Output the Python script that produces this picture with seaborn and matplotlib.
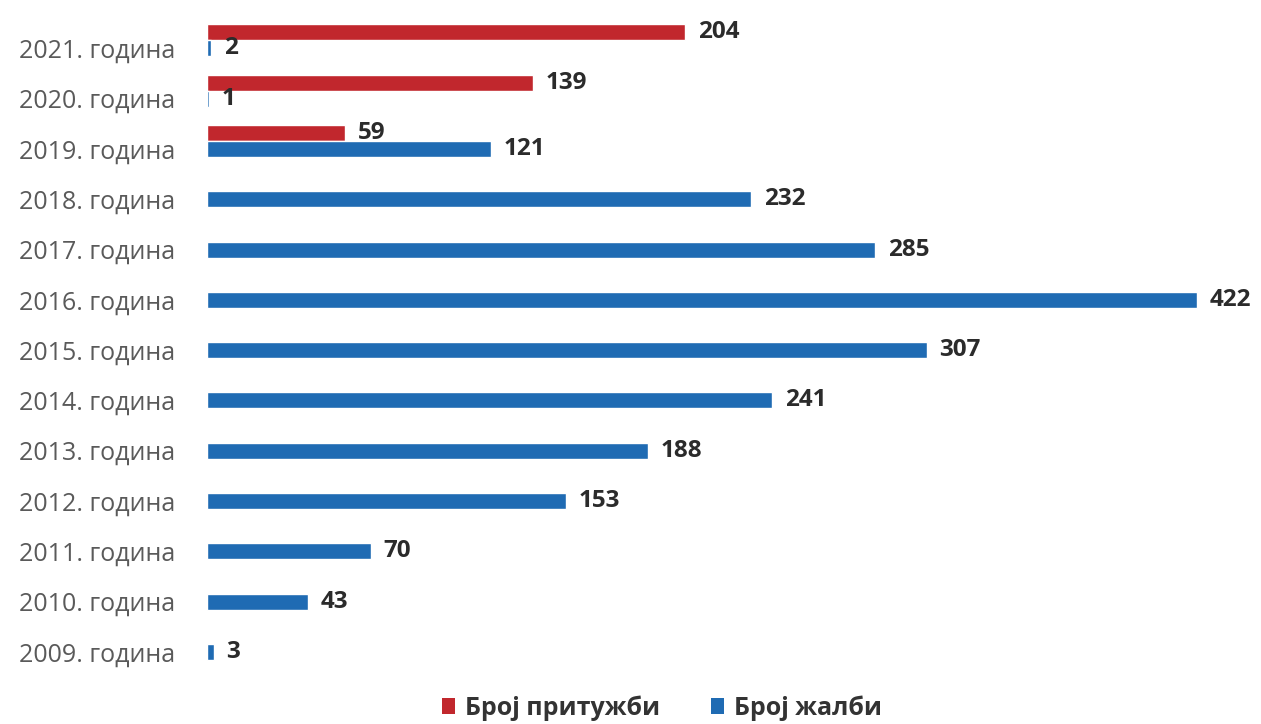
import matplotlib
matplotlib.use("Agg")
import matplotlib.pyplot as plt
import seaborn as sns
import pandas as pd

years = ["2021. година", "2020. година", "2019. година", "2018. година", "2017. година",
         "2016. година", "2015. година", "2014. година", "2013. година", "2012. година",
         "2011. година", "2010. година", "2009. година"]
complaints_years = ["2021. година", "2020. година", "2019. година"]
complaints = [204, 139, 59]          # Број притужби
appeals = [2, 1, 121, 232, 285, 422, 307, 241, 188, 153, 70, 43, 3]  # Број жалби
series = ["Број притужби", "Број жалби"]
colors = ["#C1272D", "#1F6BB3"]

rows = []
for y, v in zip(complaints_years, complaints):
    rows.append({"year": y, "series": series[0], "value": v})
for y, v in zip(years, appeals):
    rows.append({"year": y, "series": series[1], "value": v})
df = pd.DataFrame(rows)

sns.set_theme(style="white")
plt.rcParams["font.family"] = ["Open Sans", "DejaVu Sans"]

fig = plt.figure(figsize=(12.61, 7.24), dpi=100)
ax = fig.add_axes([0.164, 0.076, 0.80, 0.903])

sns.barplot(data=df, y="year", x="value", hue="series", order=years, hue_order=series,
            palette=colors, orient="h", width=0.64, dodge=True, ax=ax, legend=False,
            saturation=1)

for cont in ax.containers:
    ax.bar_label(cont, fmt="%d", padding=9, fontsize=17.5, fontweight="bold", color="#2b2b2b")

ax.set_xlim(0, 430)
ax.set_ylim(len(years) - 0.5, -0.5)
ax.set_xlabel("")
ax.set_ylabel("")
ax.set_xticks([])
ax.set_yticks([i + 0.16 for i in range(len(years))])
ax.set_yticklabels(years, fontsize=18, color="#5a5a5a")
ax.tick_params(axis="y", length=0, pad=23)
for s in ax.spines.values():
    s.set_visible(False)

from matplotlib.patches import Patch
handles = [Patch(facecolor=c, edgecolor="none") for c in colors]
leg = fig.legend(handles, series, loc="center", bbox_to_anchor=(0.525, 0.022), ncol=2,
                 frameon=False, fontsize=18, handlelength=0.55, handleheight=0.55,
                 handletextpad=0.4, columnspacing=2.0)
for t in leg.get_texts():
    t.set_color("#333333")
    t.set_fontweight("bold")

fig.savefig("out.png", dpi=100, facecolor="white")
